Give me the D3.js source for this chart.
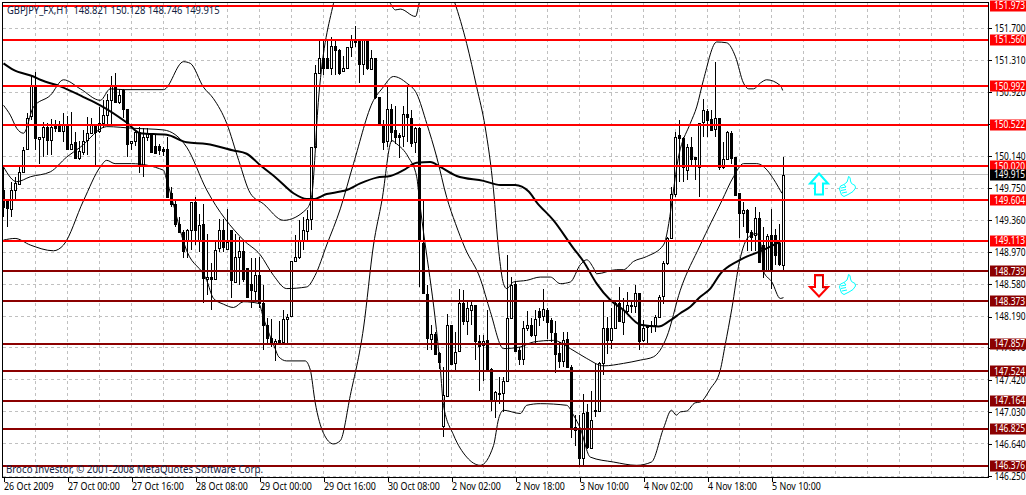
<!DOCTYPE html>
<html><head><meta charset="utf-8">
<script src="https://cdn.jsdelivr.net/npm/d3@7"></script>
<style>html,body{margin:0;padding:0;background:#fff;overflow:hidden}svg{display:block}text{font-family:"Noto Sans",sans-serif;font-size:10px}</style>
</head><body><svg id="c" width="1026" height="495"></svg>
<script>
const opens=[149.73,149.61,149.50,149.73,149.81,149.95,150.22,150.62,150.99,150.36,150.38,150.50,150.34,150.51,150.51,150.45,150.52,150.23,150.31,150.12,150.20,150.33,150.42,150.52,150.44,150.54,150.64,150.82,150.99,150.80,150.94,150.71,150.29,150.32,150.43,150.03,150.37,150.42,150.27,150.27,150.23,150.23,149.69,149.56,149.32,149.22,149.12,149.24,149.58,149.12,149.31,148.65,148.67,148.65,149.02,149.24,149.02,149.24,148.62,148.92,148.99,148.78,148.58,148.51,148.70,148.36,148.09,147.93,147.86,147.91,147.88,148.16,148.19,148.86,148.91,149.12,149.24,149.38,150.25,151.15,151.33,151.33,151.21,151.48,151.43,151.17,151.21,151.46,151.55,151.55,151.26,151.55,151.20,151.33,150.86,150.52,150.33,150.72,150.46,150.40,150.38,150.65,150.61,150.31,150.48,149.08,148.47,147.92,147.98,147.75,146.85,147.23,148.09,147.63,147.76,148.35,148.13,148.27,148.33,147.89,147.84,147.90,147.55,147.17,147.25,147.25,147.40,148.17,148.59,147.78,147.67,148.05,148.09,147.97,148.26,148.20,148.27,148.15,147.99,147.75,147.65,147.92,147.58,146.85,146.82,146.47,147.03,146.59,147.04,147.04,147.63,148.05,147.91,148.05,148.35,148.12,148.26,148.33,148.32,148.48,147.91,148.08,148.08,148.09,148.19,148.44,148.84,149.15,149.69,150.40,150.36,149.97,150.25,150.13,150.01,150.55,150.69,150.59,150.48,150.61,150.01,150.11,150.42,150.13,149.69,149.45,149.49,149.22,149.18,149.39,149.06,148.76,149.18,149.18,149.08,148.821];
const highs=[150.01,149.61,149.83,149.89,150.01,150.25,150.66,151.11,151.17,150.38,150.56,150.54,150.59,150.58,150.57,150.67,150.63,150.68,150.44,150.33,150.46,150.62,150.61,150.52,150.74,150.82,150.90,151.11,151.15,150.96,150.96,150.71,150.33,150.46,150.50,150.48,150.48,150.42,150.40,150.29,150.25,150.38,149.77,149.60,149.40,149.24,149.26,149.58,149.64,149.44,149.56,149.20,148.84,149.10,149.38,149.38,149.50,149.24,149.20,149.16,149.12,148.78,148.90,148.90,148.91,148.57,148.17,148.16,147.92,148.13,148.27,148.22,148.86,149.18,149.36,149.40,149.48,150.25,151.25,151.57,151.55,151.57,151.59,151.55,151.45,151.36,151.47,151.61,151.72,151.55,151.55,151.55,151.43,151.33,150.86,150.58,150.99,150.78,150.75,150.42,150.75,150.99,150.70,150.50,150.50,149.60,148.57,148.09,148.00,147.76,147.58,148.22,148.09,148.00,148.52,148.51,148.37,148.37,148.33,147.96,147.97,148.27,147.56,147.29,147.46,147.46,148.94,148.67,148.62,147.82,148.13,148.26,148.17,148.27,148.29,148.53,148.29,148.17,148.13,147.88,148.00,148.00,147.60,146.99,146.99,147.25,147.13,147.29,147.62,147.64,148.39,148.19,148.29,148.37,148.55,148.41,148.49,148.37,148.57,148.48,148.15,148.09,148.13,148.21,148.45,148.86,149.16,149.77,150.44,150.58,150.38,150.29,150.38,150.13,150.54,150.84,150.72,150.70,151.29,150.61,150.31,150.45,150.45,150.13,149.69,149.58,149.50,149.24,149.52,149.46,149.28,149.20,149.50,149.26,149.31,150.128];
const lows=[149.40,149.28,149.40,149.60,149.81,149.95,150.21,150.58,150.21,150.05,150.13,150.15,150.16,150.44,150.44,150.31,150.23,150.21,150.11,150.10,150.15,150.15,150.42,150.03,150.42,150.48,150.52,150.52,150.80,150.78,150.60,150.13,150.21,150.27,149.94,149.89,150.33,150.18,150.17,150.15,150.14,149.64,149.52,149.28,149.22,148.90,148.90,149.00,149.06,148.98,148.36,148.45,148.27,148.65,148.98,148.98,149.02,148.41,148.61,148.57,148.61,148.43,148.29,148.37,148.29,147.78,147.84,147.82,147.65,147.87,147.88,147.84,148.19,148.85,148.89,149.00,149.10,149.24,150.23,151.15,151.13,151.21,151.13,151.13,151.13,151.17,151.21,151.35,151.47,151.03,151.13,151.19,151.19,150.84,150.52,150.21,150.25,150.31,150.29,150.12,150.25,150.31,150.25,150.18,148.55,148.47,147.78,147.78,147.72,147.55,146.73,147.22,147.60,147.54,147.76,148.09,147.96,148.09,147.66,147.28,147.40,147.54,147.04,146.95,147.13,147.03,147.40,148.17,147.77,147.60,147.60,148.02,147.94,147.86,148.07,148.13,147.92,147.88,147.50,147.56,147.58,147.56,146.71,146.62,146.38,146.38,146.58,146.58,146.97,147.03,147.48,147.74,147.80,148.05,148.12,147.97,148.23,148.23,148.23,147.78,147.88,147.86,147.99,148.00,148.17,148.34,148.82,149.14,149.64,149.83,149.83,149.85,150.03,149.85,149.65,150.38,150.38,150.45,150.38,149.97,149.99,150.09,150.05,149.67,149.14,149.28,148.99,148.99,148.99,148.86,148.66,148.76,148.53,148.82,148.80,148.746];
const closes=[149.52,149.51,149.73,149.81,149.95,150.22,150.60,150.99,150.36,150.38,150.50,150.34,150.50,150.49,150.45,150.53,150.23,150.29,150.12,150.20,150.33,150.42,150.52,150.44,150.54,150.64,150.82,150.99,150.80,150.89,150.71,150.29,150.32,150.43,150.03,150.38,150.42,150.19,150.18,150.22,150.21,149.64,149.56,149.32,149.22,148.99,149.24,149.58,149.24,149.30,148.65,148.67,148.65,149.00,149.24,149.03,149.10,148.63,148.92,148.99,148.65,148.43,148.51,148.70,148.36,148.09,147.93,147.86,147.89,147.87,148.16,148.19,148.86,148.91,149.12,149.24,149.38,150.25,151.15,151.33,151.21,151.21,151.48,151.43,151.15,151.21,151.47,151.55,151.52,151.26,151.55,151.21,151.33,150.86,150.52,150.31,150.72,150.44,150.38,150.38,150.65,150.61,150.31,150.48,149.12,148.47,147.93,147.98,147.74,147.64,147.23,148.09,147.62,147.76,148.35,148.13,148.29,148.33,147.89,147.83,147.89,147.55,147.17,147.27,147.26,147.40,148.17,148.57,147.77,147.67,148.05,148.09,147.97,148.16,148.19,148.28,148.13,148.00,147.74,147.65,147.90,147.58,146.83,146.81,146.47,147.02,146.60,146.93,147.05,147.63,148.05,147.91,148.05,148.35,148.13,148.27,148.33,148.32,148.48,147.90,148.05,148.07,148.09,148.19,148.43,148.84,149.14,149.68,150.38,150.36,150.01,150.25,150.11,150.11,150.54,150.70,150.58,150.46,150.61,150.01,150.11,150.44,150.12,149.67,149.45,149.49,149.22,149.16,149.39,148.86,148.76,149.17,148.76,148.94,148.82,149.915];

const maBars=[0,2.5,7.5,9.2,14.2,20,24.2,30.8,34.2,40.8,45.8,50.8,57.5,60.8,64.2,68.3,72.5,75.8,77.5,80.8,84.2,85.8,89.2,93.3,96.7,100,103.3,106.7,109.2,113.3,120,124.2,127.9,131.3,133.3,137.5,142.5,145,148.3,151.7,155,159.2,163.8,166.3,169.2,171.7,174.2,176.7,179.2,183.8,190,194.2];
const maPrices=[151.27,151.19,151.11,151.07,150.99,150.86,150.76,150.55,150.42,150.40,150.31,150.29,150.21,150.17,150.03,149.87,149.69,149.62,149.62,149.68,149.71,149.73,149.81,149.88,149.90,149.97,150.06,150.07,150.01,149.90,149.84,149.79,149.79,149.71,149.58,149.36,149.02,148.86,148.59,148.39,148.27,148.09,148.07,148.13,148.23,148.31,148.43,148.53,148.71,148.87,149.00,149.10];

const upperBars=[0,1.7,3.3,5,7.5,11.7,15,19.2,24.2,26.7,30,40,45,46.7,50,52.5,55.8,58.8,61.7,65,70,75.8,77,78.8,82.5,85,92,96.7,98,99.2,103,104,108,112.8,115.8,118.3,120.4,122.5,123.8,125,125.8,127.5,130.8,134.2,136.7,139.2,141.7,144.2,145.8,147.5,148.3,153.3,155,157.5,160.8,165,169.2,171.7,173.3,175,178.3,180.8,183,185,186.3,187.5,189.2,190.8,194.2,194.8];
const upperPrices=[150.76,150.64,150.48,150.42,150.74,150.88,151.07,150.96,150.82,150.96,150.95,150.95,151.29,151.27,150.98,150.84,150.54,150.09,149.69,149.56,149.36,149.50,149.64,150.86,152.00,152.40,152.60,152.00,151.92,151.93,151.84,152.02,152.50,152.01,151.51,150.98,150.50,149.73,148.99,148.59,148.53,148.61,148.63,148.67,148.67,148.59,148.61,148.82,148.88,148.78,148.71,148.76,148.76,148.86,148.92,149.06,150.23,150.54,150.74,151.07,151.53,151.52,151.35,151.03,150.96,150.96,151.03,151.07,151.00,150.94];

const midBars=[0,3.3,6.7,11.7,15.8,19.2,25.8,32.5,40,45.8,50.8,60,64.2,67.5,70.8,75.8,77.9,80.8,84.2,87.5,92.5,94.6,97.5,100.8,103.3,105.8,108.3,110.8,113,115.4,119.2,121.7,125,129.2,132.5,137.5,141.7,145.8,150,155,159.2,162.5,165.8,169.2,174.2,179.6,182.5,185,188.3,194.6];
const midPrices=[150.01,149.83,149.89,149.95,150.13,150.25,150.50,150.48,150.46,150.25,149.73,149.12,148.94,148.69,148.53,148.55,148.69,149.06,149.50,150.05,150.82,150.96,151.11,151.03,150.90,150.54,150.13,149.64,149.32,149.02,148.65,148.25,147.80,147.82,147.88,147.90,147.80,147.68,147.59,147.62,147.66,147.70,147.94,148.51,149.06,149.60,149.89,150.05,150.05,149.69];

const lowerBars=[0,2.9,6.7,12.5,15,20,24.2,25.8,27.9,32,40,40.8,45.8,50.8,52.5,55,57.5,60,63.8,65,67.9,68.8,70.8,75.4,76.7,77.9,80,82.5,84.2,86.7,90,92.5,94.6,97.1,98.3,101.2,103.3,104,109.2,110,112.5,115.8,119.2,122.5,123.8,125,129.2,130.8,134.2,140.8,142.5,144.2,146.7,152.5,158.3,162,165,167,168.2,169.2,170.8,172.9,174.2,176.7,179.2,180.4,182.1,184,186.3,188.3,189.6,190,192.1,194.2,195];
const lowerPrices=[149.12,149.14,149.06,148.99,149.06,149.60,150.01,150.09,150.05,150.05,149.97,149.85,148.99,148.63,148.41,148.34,148.30,148.37,148.35,148.17,147.80,147.70,147.65,147.65,147.54,147.15,146.77,146.64,146.68,147.23,148.05,149.06,149.60,150.33,150.29,150.13,149.89,149.60,147.56,147.11,146.75,146.48,146.38,146.62,146.95,147.05,147.01,147.11,147.13,147.11,146.99,146.83,146.48,146.42,146.38,146.42,146.83,147.05,146.99,147.03,147.04,147.14,147.15,147.31,147.54,147.84,148.29,148.86,149.16,149.20,148.99,148.74,148.61,148.41,148.42];

const resistanceLevels=[151.973,151.560,150.992,150.522,150.020,149.604,149.113];
const supportLevels=[148.739,148.373,147.857,147.524,147.164,146.825,146.376];
const priceTicks=[151.70,151.31,150.92,150.53,150.14,149.75,149.36,148.97,148.58,148.19,147.81,147.42,147.03,146.64,146.25];
const timeTicks=["26 Oct 2009","27 Oct 00:00","27 Oct 16:00","28 Oct 08:00","29 Oct 00:00","29 Oct 16:00","30 Oct 08:00","2 Nov 02:00","2 Nov 18:00","3 Nov 10:00","4 Nov 02:00","4 Nov 18:00","5 Nov 10:00"];
const lastPrice=149.915;
const titleText="GBPJPY_FX,H1  148.821 150.128 148.746 149.915";
const creditText="Broco Investor, © 2001-2008 MetaQuotes Software Corp.";

const L=2.5,R=988.5,T=2.5,B=477.5;
const svg=d3.select("#c");
const x=d3.scaleLinear().domain([0,240]).range([3.5,963.5]);
const y=d3.scaleLinear().domain([146.25,151.70]).range([476,28]);
const px=v=>Math.round(v-0.5)+0.5;

svg.append("defs").append("clipPath").attr("id","plot").append("rect").attr("x",L).attr("y",T).attr("width",R-L).attr("height",B-T);
const plot=svg.append("g").attr("clip-path","url(#plot)");

// grid
const gridBars=d3.range(8,241,8);
plot.append("g").selectAll("line").data(gridBars).join("line")
 .attr("x1",d=>px(x(d))).attr("x2",d=>px(x(d))).attr("y1",T).attr("y2",B)
 .attr("stroke","#c0c0c0").attr("stroke-dasharray","3,3").attr("shape-rendering","crispEdges");
plot.append("g").selectAll("line").data(priceTicks).join("line")
 .attr("x1",L).attr("x2",R).attr("y1",d=>px(y(d))).attr("y2",d=>px(y(d)))
 .attr("stroke","#c0c0c0").attr("stroke-dasharray","3,3").attr("shape-rendering","crispEdges");
plot.append("line").attr("x1",L).attr("x2",R).attr("y1",px(y(lastPrice))).attr("y2",px(y(lastPrice)))
 .attr("stroke","#c0c0c0").attr("shape-rendering","crispEdges");

// candles
const bars=d3.range(opens.length);
const cg=plot.append("g").attr("shape-rendering","crispEdges");
cg.selectAll("line").data(bars).join("line")
 .attr("x1",i=>px(x(i))).attr("x2",i=>px(x(i)))
 .attr("y1",i=>y(highs[i])).attr("y2",i=>y(lows[i]))
 .attr("stroke","#000");
cg.selectAll("rect").data(bars).join("rect")
 .attr("x",i=>px(x(i))-1).attr("width",2)
 .attr("y",i=>Math.round(y(Math.max(opens[i],closes[i])))+0.5)
 .attr("height",i=>Math.max(1,Math.round(Math.abs(y(opens[i])-y(closes[i])))))
 .attr("fill",i=>closes[i]>opens[i]?"#fff":"#000").attr("stroke","#000");

// indicator lines
const line=d3.line().x(d=>x(d[0])).y(d=>y(d[1])).curve(d3.curveMonotoneX);
[[upperBars,upperPrices],[midBars,midPrices],[lowerBars,lowerPrices]].forEach(([a,b])=>{
 plot.append("path").attr("d",line(d3.zip(a,b))).attr("fill","none").attr("stroke","#000").attr("stroke-width",1).attr("stroke-linejoin","round");
});
plot.append("path").attr("d",line(d3.zip(maBars,maPrices))).attr("fill","none").attr("stroke","#000").attr("stroke-width",2);

// horizontal levels
const lv=(data,col)=>plot.append("g").selectAll("line").data(data).join("line")
 .attr("x1",L).attr("x2",R).attr("y1",d=>Math.round(y(d))).attr("y2",d=>Math.round(y(d)))
 .attr("stroke",col).attr("stroke-width",2).attr("shape-rendering","crispEdges");
lv(resistanceLevels,"#ff0000");lv(supportLevels,"#8b0000");

// icons
const thumb="M9.5 0.5 L11 1.5 L11.5 5 L12.5 7.5 L16 9.5 L16.5 12 L14 15.5 L10 18 L5 20.5 L2.5 19 L1.5 16 L0.5 13 L1.5 10 L5 8.5 L8 6 L9 3 Z M2 12 L7 11 M2 14.5 L7 13.5 M3 17 L8 16 M5 8.5 L7 11";
const ic=svg.append("g");
ic.append("path").attr("d","M819 173.5 L828 183.5 L823 183.5 L823 194.5 L815 194.5 L815 183.5 L810 183.5 Z")
 .attr("fill","#fff").attr("stroke","#00ffff").attr("stroke-width",2);
ic.append("path").attr("d","M815 275 L823 275 L823 287 L828 287 L819 296.5 L810 287 L815 287 Z")
 .attr("fill","#fff").attr("stroke","#ff0000").attr("stroke-width",2);
ic.append("path").attr("d","M815.5 276 L822.5 276 L822.5 288 L826 288").attr("fill","none").attr("stroke","#8b0000").attr("stroke-width",0.6);
ic.append("path").attr("d",thumb).attr("transform","translate(839,176)").attr("fill","#fff").attr("stroke","#00ffff").attr("stroke-width",1);
ic.append("path").attr("d",thumb).attr("transform","translate(839,274)").attr("fill","#fff").attr("stroke","#00ffff").attr("stroke-width",1);

// frame
svg.append("rect").attr("x",L).attr("y",T).attr("width",R-L).attr("height",B-T).attr("fill","none").attr("stroke","#000").attr("shape-rendering","crispEdges");

// narrow the glyphs horizontally to the reference's text width
const priceK=0.84, timeK=0.89;

// price axis
const yAxis=d3.axisRight(y).tickValues(priceTicks).tickFormat(d3.format(".3f")).tickSize(3).tickPadding(3);
const ya=svg.append("g").attr("transform",`translate(${R},0)`).call(yAxis);
ya.select(".domain").remove();
ya.selectAll("line").attr("stroke","#000").attr("shape-rendering","crispEdges");
ya.selectAll("text").attr("fill","#000").style("font-family",'"Noto Sans",sans-serif').style("font-size","10px")
 .attr("x",6/priceK).attr("transform",`scale(${priceK},1)`);

// time axis
const xAxis=d3.axisBottom(x).tickValues(timeTicks.map((_,k)=>k*16)).tickFormat((d,k)=>timeTicks[k]).tickSize(4).tickPadding(1);
const xa=svg.append("g").attr("transform",`translate(0,${B})`).call(xAxis);
xa.select(".domain").remove();
xa.selectAll("line").attr("stroke","#000").attr("shape-rendering","crispEdges");
xa.selectAll("text").attr("text-anchor","start").attr("fill","#000").style("font-family",'"Noto Sans",sans-serif').style("font-size","10px")
 .attr("transform",`scale(${timeK},1)`);

// level labels
const tag=(p,col)=>{
 svg.append("rect").attr("x",990).attr("y",Math.round(y(p))-5.5).attr("width",36).attr("height",11).attr("fill",col);
 svg.append("text").attr("transform",`translate(994,${y(p)+3.5}) scale(${priceK},1)`).attr("fill","#fff").text(p.toFixed(3));
};
resistanceLevels.forEach(p=>tag(p,"#ff0000"));
supportLevels.forEach(p=>tag(p,"#8b0000"));
tag(lastPrice,"#000");

// texts
svg.append("text").attr("transform","translate(7,14) scale(0.94,1)").attr("fill","#102040").attr("xml:space","preserve").style("white-space","pre").text(titleText);
svg.append("text").attr("transform","translate(6,473) scale(0.97,1)").attr("fill","#102040").text(creditText);
</script></body></html>
